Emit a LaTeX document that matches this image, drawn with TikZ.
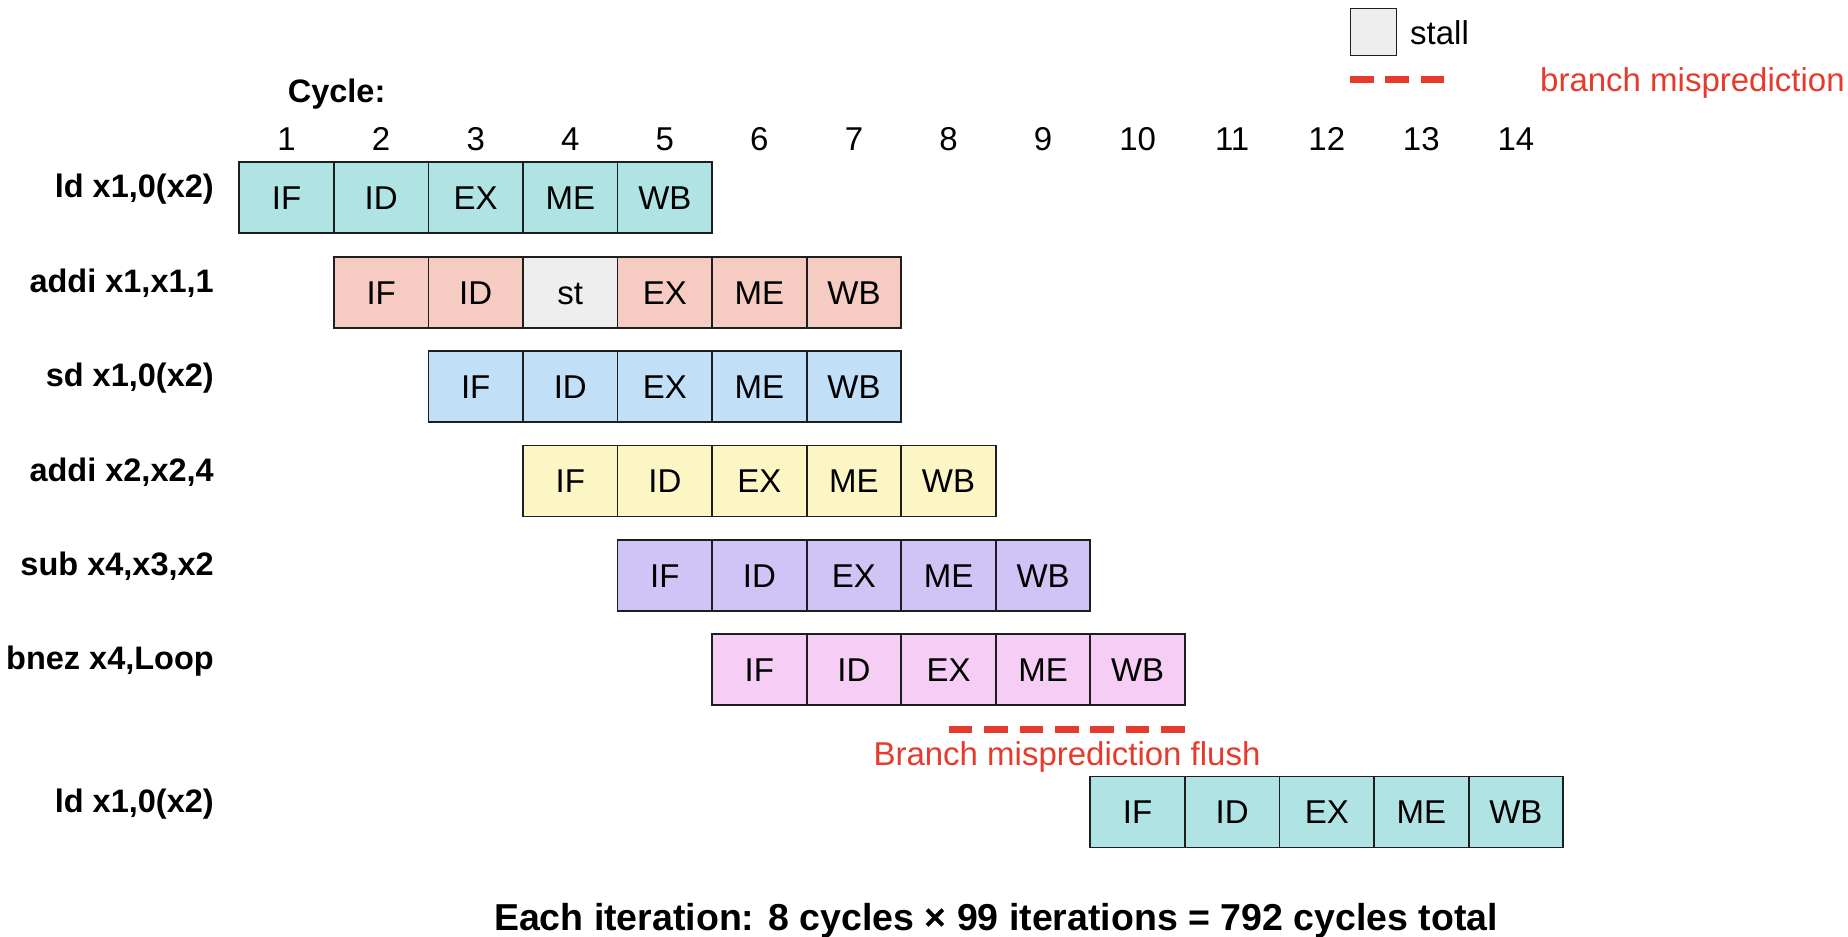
\documentclass[tikz,border=0pt]{standalone}
\usepackage{fontspec}
\setmainfont{Liberation Sans}
\definecolor{cteal}{HTML}{B0E3E3}
\definecolor{csalmon}{HTML}{F6CBC1}
\definecolor{cstall}{HTML}{EEEEEE}
\definecolor{cblue}{HTML}{C2DFF8}
\definecolor{cyellow}{HTML}{FCF5C4}
\definecolor{cpurple}{HTML}{D0C3F5}
\definecolor{cpink}{HTML}{F6CDF5}
\definecolor{cred}{HTML}{E63A2C}
\definecolor{cborder}{HTML}{1E1E1E}
\begin{document}
\begin{tikzpicture}[x=1pt,y=-1pt,
  cell/.style={draw=cborder, line width=1.8pt, minimum width=94.56pt, minimum height=71pt,
    inner sep=0pt, outer sep=0pt, font=\fontsize{33}{40}\selectfont, text height=23.6pt, text depth=0pt},
  lbl/.style={anchor=base east, inner sep=0pt, font=\bfseries\fontsize{32.5}{39}\selectfont},
  num/.style={anchor=base, inner sep=0pt, font=\fontsize{33}{40}\selectfont},
  redtext/.style={inner sep=0pt, text=cred, font=\fontsize{33}{40}\selectfont},
  flushline/.style={draw=cred, line width=7pt, dash pattern=on 23.5pt off 11.9pt}]
\useasboundingbox (0,0) rectangle (1848,937);

% legend
\node[draw=cborder, line width=1.8pt, fill=cstall, minimum width=46pt, minimum height=47pt, inner sep=0pt] (legstall) at (1373.5,32) {};
\node[anchor=base west, inner sep=0pt, font=\fontsize{33}{40}\selectfont] (legstalltxt) at (1410,44.5) {stall};
\coordinate (lega) at (1350,79.5);
\coordinate (legb) at (1444,79.5);
\draw[flushline] (lega) -- (legb);
\node[redtext, anchor=base west] (legbranch) at (1540,91) {branch misprediction};

% cycle header
\node[anchor=base west, inner sep=0pt, font=\bfseries\fontsize{32.5}{39}\selectfont] (cyc) at (287.6,102) {Cycle:};
\foreach \c in {1,...,14}
  \node[num] (n\c) at ({286.6+(\c-1)*94.56},150) {\c};

% row 1
\node[lbl] (l1) at (214,197.8) {ld x1,0(x2)};
\foreach [count=\i] \s in {IF,ID,EX,ME,WB}
  \node[cell, fill=cteal] (r1c\i) at ({286.6+(\i-1)*94.56},197.8) {\s};

% row 2
\node[lbl] (l2) at (214,292.2) {addi x1,x1,1};
\foreach [count=\i] \s/\f in {IF/csalmon,ID/csalmon,st/cstall,EX/csalmon,ME/csalmon,WB/csalmon}
  \node[cell, fill=\f] (r2c\i) at ({286.6+\i*94.56},292.2) {\s};

% row 3
\node[lbl] (l3) at (214,386.6) {sd x1,0(x2)};
\foreach [count=\i] \s in {IF,ID,EX,ME,WB}
  \node[cell, fill=cblue] (r3c\i) at ({286.6+(\i+1)*94.56},386.6) {\s};

% row 4
\node[lbl] (l4) at (214,481.0) {addi x2,x2,4};
\foreach [count=\i] \s in {IF,ID,EX,ME,WB}
  \node[cell, fill=cyellow] (r4c\i) at ({286.6+(\i+2)*94.56},481.0) {\s};

% row 5
\node[lbl] (l5) at (214,575.4) {sub x4,x3,x2};
\foreach [count=\i] \s in {IF,ID,EX,ME,WB}
  \node[cell, fill=cpurple] (r5c\i) at ({286.6+(\i+3)*94.56},575.4) {\s};

% row 6
\node[lbl] (l6) at (214,669.8) {bnez x4,Loop};
\foreach [count=\i] \s in {IF,ID,EX,ME,WB}
  \node[cell, fill=cpink] (r6c\i) at ({286.6+(\i+4)*94.56},669.8) {\s};

% flush
\coordinate (fla) at (948.8,729.7);
\coordinate (flb) at (1184.9,729.7);
\draw[flushline] (fla) -- (flb);
\node[redtext, anchor=base] (flushtxt) at (1067,765) {Branch misprediction flush};

% row 7
\node[lbl] (l7) at (214,812) {ld x1,0(x2)};
\foreach [count=\i] \s in {IF,ID,EX,ME,WB}
  \node[cell, fill=cteal] (r7c\i) at ({286.6+(\i+8)*94.56},812) {\s};

% summary
\node[anchor=base, inner sep=0pt, font=\bfseries\fontsize{37.5}{45}\selectfont] (summary) at (996,930)
  {Each iteration: 8 cycles × 99 iterations = 792 cycles total};
\end{tikzpicture}
\end{document}
